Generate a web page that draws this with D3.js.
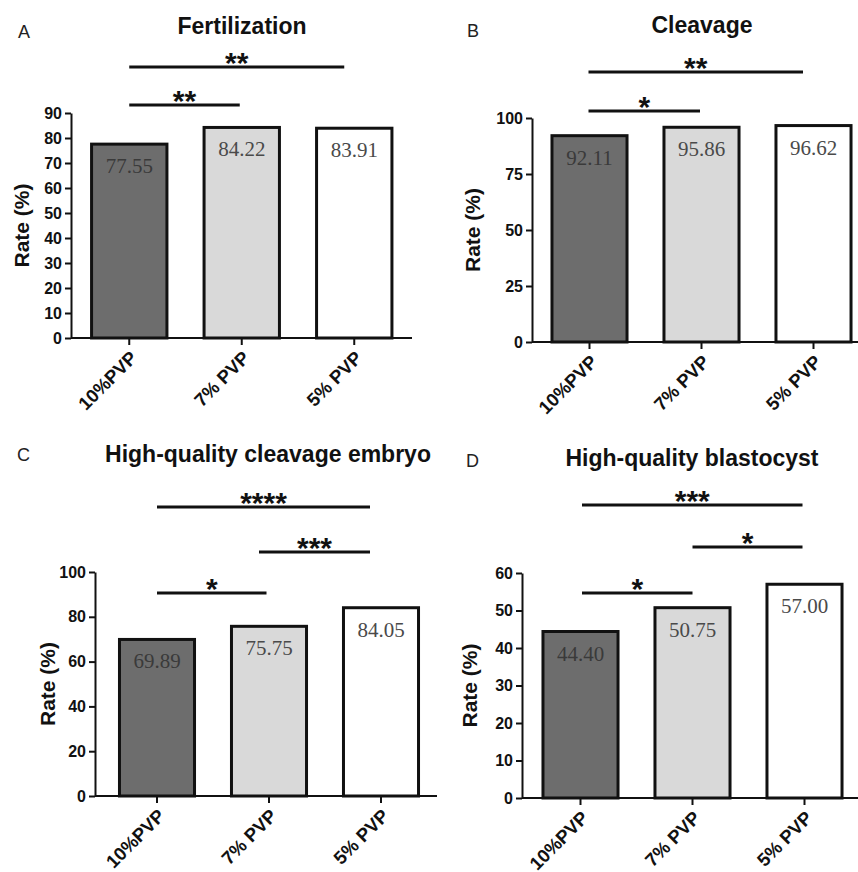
<!DOCTYPE html>
<html>
<head>
<meta charset="utf-8">
<script src="https://cdn.jsdelivr.net/npm/d3@7"></script>
<style>
  body { margin: 0; background: #fff; }
  text { font-family: "Liberation Sans", Arial, sans-serif; }
  .val { font-family: "Liberation Serif", "Times New Roman", serif; }
</style>
</head>
<body>
<svg id="fig"></svg>
<script>
"use strict";

var width  = 858,
    height = 872;

// data
var categories   = ["10%PVP", "7% PVP", "5% PVP"];
var fertilization = [77.55, 84.22, 83.91];
var cleavage      = [92.11, 95.86, 96.62];
var hqCleavage    = [69.89, 75.75, 84.05];
var hqBlastocyst  = [44.40, 50.75, 57.00];

var ticksA = [0, 10, 20, 30, 40, 50, 60, 70, 80, 90];
var ticksB = [0, 25, 50, 75, 100];
var ticksC = [0, 20, 40, 60, 80, 100];
var ticksD = [0, 10, 20, 30, 40, 50, 60];

// comparisons: [group a, group b, stars]
var sigA = [[0, 2, "**"], [0, 1, "**"]];
var sigB = [[0, 2, "**"], [0, 1, "*"]];
var sigC = [[0, 2, "****"], [1, 2, "***"], [0, 1, "*"]];
var sigD = [[0, 2, "***"], [1, 2, "*"], [0, 1, "*"]];

var fills = ["#6d6d6d", "#d9d9d9", "#ffffff"];
var textFills = ["#3a3a3a", "#4a4a4a", "#4a4a4a"];

// layout of each panel (pixels)
var panels = [
  {letter: "A", title: "Fertilization", values: fertilization, ticks: ticksA, sig: sigA,
   letterX: 18, letterY: 38, titleX: 242, titleY: 34,
   axisX: 71, yTop: 113, yZero: 338, yMax: 90, bandStart: 73, step: 112.5, xEnd: 412, labelX: 22,
   brackets: [[67, 0, -10], [105, 0, -2]]},
  {letter: "B", title: "Cleavage", values: cleavage, ticks: ticksB, sig: sigB,
   letterX: 467, letterY: 37, titleX: 702, titleY: 33,
   axisX: 532, yTop: 118, yZero: 342, yMax: 100, bandStart: 533.5, step: 112, xEnd: 860, labelX: 473,
   brackets: [[72, -1, -10.5], [111, -1, -1.5]]},
  {letter: "C", title: "High-quality cleavage embryo", values: hqCleavage, ticks: ticksC, sig: sigC,
   letterX: 17, letterY: 461, titleX: 268, titleY: 462,
   axisX: 95, yTop: 572, yZero: 796, yMax: 100, bandStart: 101, step: 112, xEnd: 437, labelX: 48,
   brackets: [[507, 0, -11], [552, -10, -11], [593, 0, -2.5]]},
  {letter: "D", title: "High-quality blastocyst", values: hqBlastocyst, ticks: ticksD, sig: sigD,
   letterX: 466, letterY: 467, titleX: 692, titleY: 466,
   axisX: 522, yTop: 573, yZero: 798, yMax: 60, bandStart: 524.5, step: 112, xEnd: 860, labelX: 470,
   brackets: [[505, 1.5, -2], [547, 0, -2], [593, 1.5, 0]]}
];

var svg = d3.select("#fig")
            .attr("width", width)
            .attr("height", height);

svg.append("rect")
   .attr("width", width)
   .attr("height", height)
   .attr("fill", "#fff");

function drawPanel(p) {
    var g = svg.append("g");

    var x = d3.scaleBand()
              .domain(categories)
              .range([p.bandStart, p.bandStart + p.step * categories.length])
              .paddingInner(0.33)
              .paddingOuter(0.165);

    var y = d3.scaleLinear()
              .domain([0, p.yMax])
              .range([p.yZero, p.yTop]);

    // panel letter + title
    g.append("text")
        .attr("x", p.letterX)
        .attr("y", p.letterY)
        .attr("font-size", 18)
        .attr("fill", "#222")
        .text(p.letter);

    g.append("text")
        .attr("x", p.titleX)
        .attr("y", p.titleY)
        .attr("text-anchor", "middle")
        .attr("font-size", 23)
        .attr("font-weight", "bold")
        .attr("fill", "#111")
        .text(p.title);

    // bars
    var bars = g.selectAll("g.bar")
        .data(p.values)
        .enter()
        .append("g")
            .attr("class", "bar");

    bars.append("rect")
        .attr("x", function(d, i) { return x(categories[i]); })
        .attr("y", function(d) { return y(d); })
        .attr("width", x.bandwidth())
        .attr("height", function(d) { return y(0) - y(d); })
        .attr("fill", function(d, i) { return fills[i]; })
        .attr("stroke", "#111")
        .attr("stroke-width", 3);

    bars.append("text")
        .attr("class", "val")
        .attr("x", function(d, i) { return x(categories[i]) + x.bandwidth() / 2; })
        .attr("y", function(d) { return y(d) + 29; })
        .attr("text-anchor", "middle")
        .attr("font-size", 21)
        .attr("fill", function(d, i) { return textFills[i]; })
        .text(function(d) { return d.toFixed(2); });

    // y axis
    var yAxis = g.append("g")
        .attr("transform", "translate(" + p.axisX + ",0)")
        .call(d3.axisLeft(y).tickValues(p.ticks).tickSize(6).tickSizeOuter(0).tickPadding(3));

    yAxis.select(".domain").attr("stroke", "#111").attr("stroke-width", 2);
    yAxis.selectAll(".tick line").attr("stroke", "#111").attr("stroke-width", 2);
    yAxis.selectAll(".tick text")
        .attr("font-family", "Liberation Sans, Arial, sans-serif")
        .attr("font-size", 16)
        .attr("font-weight", "bold")
        .attr("fill", "#111");

    g.append("text")
        .attr("transform", "translate(" + p.labelX + "," + (p.yZero + p.yTop) / 2 + ") rotate(-90)")
        .attr("text-anchor", "middle")
        .attr("dy", "0.35em")
        .attr("font-size", 21)
        .attr("font-weight", "bold")
        .attr("fill", "#111")
        .text("Rate (%)");

    // x axis
    g.append("line")
        .attr("x1", p.axisX)
        .attr("x2", p.xEnd)
        .attr("y1", p.yZero)
        .attr("y2", p.yZero)
        .attr("stroke", "#111")
        .attr("stroke-width", 2);

    var xAxis = g.append("g")
        .attr("transform", "translate(0," + p.yZero + ")")
        .call(d3.axisBottom(x).tickSize(7).tickSizeOuter(0));

    xAxis.select(".domain").remove();
    xAxis.selectAll(".tick line").attr("stroke", "#111").attr("stroke-width", 2);
    xAxis.selectAll(".tick text")
        .attr("font-family", "Liberation Sans, Arial, sans-serif")
        .attr("font-size", 18.5)
        .attr("font-weight", "bold")
        .attr("fill", "#111")
        .attr("text-anchor", "end")
        .attr("y", 0)
        .attr("dy", null)
        .attr("transform", "translate(9,21) rotate(-45)");

    // significance brackets
    p.sig.forEach(function(s, i) {
        var b = p.brackets[i];
        var x1 = x(categories[s[0]]) + x.bandwidth() / 2 + b[1],
            x2 = x(categories[s[1]]) + x.bandwidth() / 2 + b[2];
        g.append("line")
            .attr("x1", x1)
            .attr("x2", x2)
            .attr("y1", b[0])
            .attr("y2", b[0])
            .attr("stroke", "#111")
            .attr("stroke-width", 3);
        g.append("text")
            .attr("x", (x1 + x2) / 2)
            .attr("y", b[0] + 6)
            .attr("text-anchor", "middle")
            .attr("font-size", 30)
            .attr("font-weight", "bold")
            .attr("fill", "#111")
            .text(s[2]);
    });
}

panels.forEach(drawPanel);
</script>
</body>
</html>
